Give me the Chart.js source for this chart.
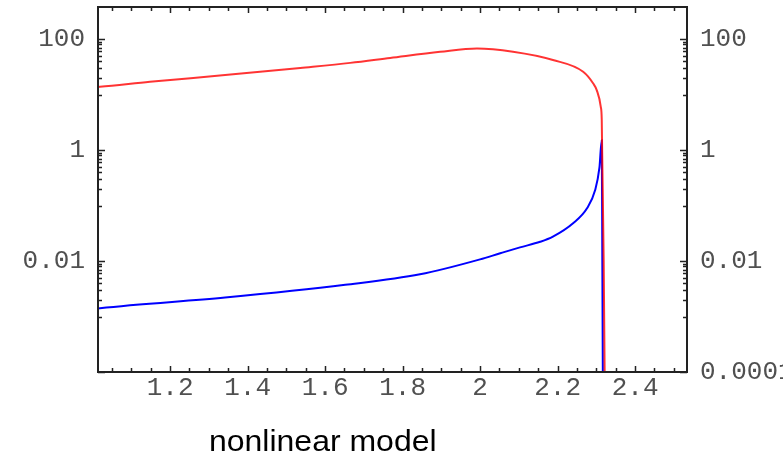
<!DOCTYPE html>
<html>
<head>
<meta charset="utf-8">
<script src="https://cdn.jsdelivr.net/npm/chart.js@4.4.1/dist/chart.umd.min.js"></script>
<style>
  html, body { margin: 0; padding: 0; background: #fff; }
  #wrap { position: relative; width: 783px; height: 460px; }
  #caption {
    position: absolute; left: 209px; top: 426px;
    font-family: "Liberation Sans", Arial, sans-serif; font-size: 30px; line-height: 30px;
    color: #000; white-space: nowrap;
    transform-origin: left top; transform: scaleX(1.066);
  }
</style>
</head>
<body>
<div id="wrap">
  <canvas id="chart" width="783" height="460"></canvas>
  <div id="caption">nonlinear model</div>
</div>
<script>
// axis ranges
const xMin = 1.014, xMax = 2.534;
const yMin = 0.0001, yMax = 378;

// tick values and labels
const xTickVals = [1.2, 1.4, 1.6, 1.8, 2, 2.2, 2.4];
const xTickLabels = ['1.2', '1.4', '1.6', '1.8', '2', '2.2', '2.4'];
const yLeftTicks = [0.01, 1, 100];
const yLeftLabels = ['0.01', '1', '100'];
const yRightTicks = [0.0001, 0.01, 1, 100];
const yRightLabels = ['0.0001', '0.01', '1', '100'];

// red curve
const redX = [1.0, 1.019, 1.148, 1.342, 1.536, 1.665, 1.768, 1.897, 1.992, 2.085, 2.188, 2.266, 2.292, 2.301, 2.3115, 2.314, 2.315, 2.319, 2.3226];
const redY = [13.5, 13.8, 17, 22.4, 30.2, 37.2, 45.7, 58.9, 67.6, 59, 41.9, 25.7, 15.8, 12, 6.0, 3.5, 1.0, 0.01, 0.00001];

// blue curve
const blueX = [1.0, 1.019, 1.342, 1.652, 1.845, 2.0, 2.052, 2.103, 2.155, 2.188, 2.24, 2.276, 2.297, 2.308, 2.314, 2.3155, 2.3174];
const blueY = [0.00135, 0.00141, 0.00219, 0.00372, 0.00575, 0.0107, 0.0138, 0.0176, 0.0222, 0.0275, 0.0479, 0.0891, 0.19, 0.48, 1.5, 0.01, 0.00001];

const tickFont = { family: '"Liberation Mono", "Courier New", monospace', size: 26 };
const tickColor = '#505050';

// frame with inward ticks on all four sides
const framePlugin = {
  id: 'frame',
  afterDatasetsDraw(chart) {
    const { ctx, chartArea: a, scales } = chart;
    const x = scales.x, y = scales.y;
    ctx.save();
    ctx.strokeStyle = '#222';
    ctx.lineWidth = 1.5;
    ctx.beginPath();
    for (let v = 1.05; v < xMax; v += 0.05) {
      const px = Math.round(x.getPixelForValue(v)) + 0.5;
      if (px <= a.left + 1 || px >= a.right - 1) continue;
      const major = xTickVals.some(t => Math.abs(t - v) < 1e-6);
      const len = major ? 6 : 4;
      ctx.moveTo(px, a.bottom); ctx.lineTo(px, a.bottom - len);
      ctx.moveTo(px, a.top); ctx.lineTo(px, a.top + len);
    }
    yRightTicks.forEach(t => {
      const py = Math.round(y.getPixelForValue(t)) + 0.5;
      ctx.moveTo(a.left, py); ctx.lineTo(a.left + 7, py);
      ctx.moveTo(a.right, py); ctx.lineTo(a.right - 7, py);
      for (let m = 1; m <= 9; m++) {
        const v = t / 10 * m;
        if (v < yMin) continue;
        const q = Math.round(y.getPixelForValue(v)) + 0.5;
        ctx.moveTo(a.left, q); ctx.lineTo(a.left + 4, q);
        ctx.moveTo(a.right, q); ctx.lineTo(a.right - 4, q);
      }
    });
    ctx.stroke();
    ctx.lineWidth = 2;
    ctx.strokeRect(a.left, a.top, a.right - a.left, a.bottom - a.top);
    ctx.restore();
  }
};

new Chart(document.getElementById('chart'), {
  type: 'line',
  data: {
    datasets: [
      {
        label: 'red',
        data: redX.map((v, i) => ({ x: v, y: redY[i] })),
        borderColor: 'rgba(255, 0, 0, 0.8)',
        borderWidth: 2,
        pointRadius: 0,
        cubicInterpolationMode: 'monotone',
        yAxisID: 'y'
      },
      {
        label: 'blue',
        data: blueX.map((v, i) => ({ x: v, y: blueY[i] })),
        borderColor: '#0000ff',
        borderWidth: 2,
        pointRadius: 0,
        cubicInterpolationMode: 'monotone',
        yAxisID: 'y'
      }
    ]
  },
  options: {
    responsive: false,
    animation: false,
    layout: { padding: { top: 7, left: 0, right: 0, bottom: 0 } },
    plugins: { legend: { display: false }, tooltip: { enabled: false } },
    scales: {
      x: {
        type: 'linear', position: 'bottom', min: xMin, max: xMax,
        grid: { display: false, drawTicks: false }, border: { display: false },
        afterBuildTicks: s => { s.ticks = xTickVals.map(v => ({ value: v })); },
        afterFit: s => { s.height = 88; s.paddingLeft = 0; s.paddingRight = 0; },
        ticks: {
          autoSkip: false, maxRotation: 0, padding: 1,
          font: tickFont, color: tickColor,
          callback: (v, i) => xTickLabels[i]
        }
      },
      y: {
        type: 'logarithmic', position: 'left', min: yMin, max: yMax,
        grid: { display: false, drawTicks: false }, border: { display: false },
        afterBuildTicks: s => { s.ticks = yLeftTicks.map(v => ({ value: v })); },
        afterFit: s => { s.width = 98; s.paddingTop = 0; s.paddingBottom = 0; },
        ticks: {
          autoSkip: false, padding: 13,
          font: tickFont, color: tickColor,
          callback: (v, i) => yLeftLabels[i]
        }
      },
      y2: {
        type: 'logarithmic', position: 'right', min: yMin, max: yMax,
        grid: { display: false, drawTicks: false }, border: { display: false },
        afterBuildTicks: s => { s.ticks = yRightTicks.map(v => ({ value: v })); },
        afterFit: s => { s.width = 96; s.paddingTop = 0; s.paddingBottom = 0; },
        ticks: {
          autoSkip: false, padding: 13,
          font: tickFont, color: tickColor,
          callback: (v, i) => yRightLabels[i]
        }
      }
    }
  },
  plugins: [framePlugin]
});
</script>
</body>
</html>
